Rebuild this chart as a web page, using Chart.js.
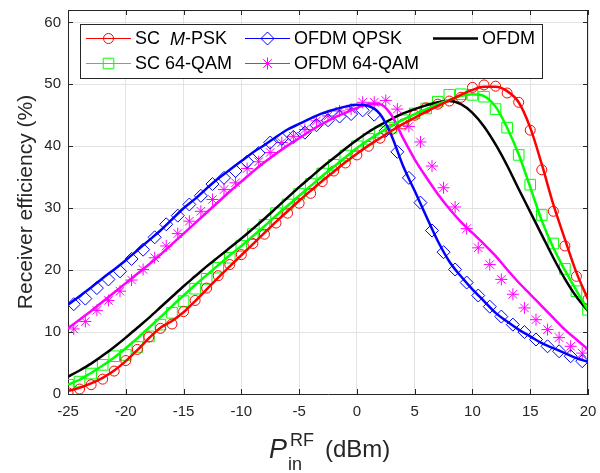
<!DOCTYPE html>
<html>
<head>
<meta charset="utf-8">
<script src="https://cdn.jsdelivr.net/npm/chart.js@4/dist/chart.umd.min.js"></script>
<style>
  html, body { margin: 0; padding: 0; background: #fff; }
</style>
</head>
<body>
<canvas id="effChart" width="600" height="473"></canvas>
<script>
// input power (dBm): simulated curves and SC measurements on whole dBm,
// OFDM measurements on the half dBm
var pinWhole = [-25,-24,-23,-22,-21,-20,-19,-18,-17,-16,-15,-14,-13,-12,-11,-10,-9,-8,-7,-6,-5,-4,-3,-2,-1,
                0,1,2,3,4,5,6,7,8,9,10,11,12,13,14,15,16,17,18,19,20];
var pinHalf = [-24.5,-23.5,-22.5,-21.5,-20.5,-19.5,-18.5,-17.5,-16.5,-15.5,-14.5,-13.5,-12.5,-11.5,-10.5,
               -9.5,-8.5,-7.5,-6.5,-5.5,-4.5,-3.5,-2.5,-1.5,-0.5,0.5,1.5,2.5,3.5,4.5,5.5,6.5,7.5,8.5,9.5,
               10.5,11.5,12.5,13.5,14.5,15.5,16.5,17.5,18.5,19.5];

// receiver efficiency (%)
var scPskCurve = [0.5,1.0,1.7,2.6,3.8,5.3,7.1,9.0,10.7,11.8,13.2,15.0,16.9,18.8,20.6,22.4,24.2,26.0,27.8,29.5,31.2,32.8,34.4,35.9,37.4,
                  38.8,40.1,41.3,42.5,43.6,44.6,45.6,46.5,47.4,48.3,49.1,49.6,49.6,48.9,47.1,43.0,37.1,30.6,25.0,19.6,15.3];
var scPskMeas = [0.2,0.8,1.5,2.4,3.7,5.4,7.2,9.2,10.6,11.3,13.3,15.1,17.1,19.1,20.9,22.5,24.3,25.8,27.6,29.2,30.8,32.4,34.3,36.0,37.3,
                 38.6,40.0,41.3,42.7,43.6,45.0,46.2,46.8,47.3,47.9,49.5,49.9,49.7,48.6,47.1,42.6,36.2,29.5,23.9,19.0,15.3];
var sc64Curve = [1.5,2.3,3.4,4.6,5.9,7.4,9.0,10.7,12.4,14.2,15.9,17.6,19.2,20.8,22.4,23.9,25.5,27.1,28.8,30.4,32.0,33.6,35.2,36.7,38.2,
                 39.7,41.0,42.2,43.3,44.3,45.2,46.0,46.8,47.5,48.1,48.4,48.1,46.4,43.0,38.7,33.4,28.0,23.6,20.0,16.7,13.5];
var sc64Meas = [1.5,2.0,3.3,4.7,6.1,6.3,7.6,9.3,11.2,13.1,15.0,17.0,18.6,20.4,22.0,23.9,25.8,27.3,29.2,30.6,32.3,33.9,35.6,37.0,38.5,
                40.0,41.2,42.3,43.0,44.2,45.3,46.1,47.2,48.3,48.4,48.3,48.0,46.0,43.0,38.6,33.8,28.9,24.3,20.2,16.6,13.6];
var ofdmCurve = [2.8,3.8,4.9,6.2,7.6,9.1,10.7,12.3,14.0,15.7,17.4,19.0,20.6,22.1,23.6,25.1,26.7,28.3,30.0,31.7,33.4,35.0,36.6,38.1,39.6,
                 41.0,42.3,43.4,44.4,45.3,46.0,46.6,47.1,47.3,46.8,45.4,43.2,40.3,36.9,33.1,29.4,25.7,22.0,18.6,15.7,13.4];
var qpskCurve = [14.4,15.8,17.2,18.7,20.1,21.6,23.2,24.8,26.4,28.2,30.0,31.5,33.2,34.8,36.2,37.6,39.0,40.2,41.5,42.7,43.6,44.5,45.3,45.9,46.4,
                 46.7,46.5,45.2,41.7,36.8,32.8,28.7,24.7,21.4,19.0,16.9,15.0,13.1,11.7,10.4,9.3,8.2,7.4,6.6,5.8,5.2];
var qpskMeas = [14.5,15.4,17.1,18.5,19.8,21.8,23.3,25.3,27.4,28.8,30.6,32.0,33.9,34.9,36.0,37.5,38.9,40.6,41.2,41.5,42.2,43.4,44.2,44.8,45.2,
                45.8,45.1,42.5,39.1,34.9,30.9,26.4,22.9,20.1,18.0,15.9,14.1,12.5,11.2,10.0,8.8,7.7,6.9,6.1,5.3];
var ofdm64Curve = [10.6,12.0,13.4,14.9,16.4,17.9,19.4,20.9,22.5,24.2,25.9,27.6,29.3,31.0,32.7,34.3,35.9,37.4,38.8,40.1,41.3,42.5,43.6,44.6,45.4,
                   46.2,46.8,46.8,45.0,41.3,37.9,35.0,32.3,29.9,27.8,26.0,24.2,22.3,20.1,18.0,16.1,14.2,12.3,10.4,8.8,7.2];
var ofdm64Meas = [10.5,11.7,13.5,15.1,16.6,18.4,20.1,22.0,23.9,25.9,27.9,29.5,31.4,33.0,34.1,36.4,37.5,39.0,40.6,41.6,42.7,44.1,44.9,45.7,46.0,
                  47.1,47.1,47.4,46.0,43.2,40.7,36.8,33.3,30.2,26.7,23.6,20.9,18.5,16.1,13.9,12.0,10.4,9.1,7.7,6.6];

var xTicks = [-25, -20, -15, -10, -5, 0, 5, 10, 15, 20];
var yTicks = [0, 10, 20, 30, 40, 50, 60];

var axisColor = '#262626';
var fontFamily = '"Liberation Sans", Arial, sans-serif';

function pts(xs, ys) {
    return xs.map(function (x, i) { return { x: x, y: ys[i] }; });
}

function curve(label, xs, ys, color) {
    return {
        label: label, data: pts(xs, ys),
        borderColor: color, backgroundColor: color,
        borderWidth: 2.5, pointRadius: 0,
        cubicInterpolationMode: 'monotone', order: 1
    };
}

function marks(label, xs, ys, color, style, r) {
    return {
        label: label, data: pts(xs, ys), showLine: false,
        borderColor: color, backgroundColor: 'rgba(0,0,0,0)',
        pointStyle: style, pointRadius: r, pointBorderWidth: 1,
        pointBorderColor: color, pointBackgroundColor: 'rgba(0,0,0,0)', order: 2
    };
}

var datasets = [
    marks('SC M-PSK', pinWhole, scPskMeas, '#ff0000', 'circle', 5),
    marks('OFDM QPSK', pinHalf, qpskMeas, '#0000ff', 'rectRot', 6.5),
    marks('SC 64-QAM', pinWhole, sc64Meas, '#00ff00', 'rect', 7.5),
    marks('OFDM 64-QAM', pinHalf, ofdm64Meas, '#ff00ff', 'star', 6),
    curve('SC M-PSK', pinWhole, scPskCurve, '#ff0000'),
    curve('OFDM QPSK', pinWhole, qpskCurve, '#0000ff'),
    curve('SC 64-QAM', pinWhole, sc64Curve, '#00ff00'),
    curve('OFDM 64-QAM', pinWhole, ofdm64Curve, '#ff00ff'),
    curve('OFDM', pinWhole, ofdmCurve, '#000000')
];

// legend entries: [text pieces, marker dataset index (-1 none), curve dataset index, column, row]
var legendEntries = [
    [[['SC  ', ''], ['M', 'italic '], ['-PSK', '']], 0, 4, 0, 0],
    [[['OFDM QPSK', '']], 1, 5, 1, 0],
    [[['OFDM', '']], -1, 8, 2, 0],
    [[['SC 64-QAM', '']], 2, 6, 0, 1],
    [[['OFDM 64-QAM', '']], 3, 7, 1, 1]
];

function drawMark(ctx, ds, x, y) {
    if (Chart.helpers && Chart.helpers.drawPoint) {
        ctx.strokeStyle = ds.pointBorderColor;
        ctx.fillStyle = 'rgba(0,0,0,0)';
        ctx.lineWidth = ds.pointBorderWidth;
        Chart.helpers.drawPoint(ctx, { pointStyle: ds.pointStyle, radius: ds.pointRadius, borderWidth: 1, rotation: 0 }, x, y);
    }
}

var matlabAxes = {
    id: 'matlabAxes',
    afterDatasetsDraw: function (chart) {
        var ctx = chart.ctx, a = chart.chartArea;
        var xs = chart.scales.x, ys = chart.scales.y;
        ctx.save();
        // box + inward ticks
        ctx.strokeStyle = axisColor;
        ctx.lineWidth = 1;
        ctx.beginPath();
        ctx.moveTo(a.left, a.top + 0.5); ctx.lineTo(a.right, a.top + 0.5);
        ctx.moveTo(a.right - 0.5, a.top); ctx.lineTo(a.right - 0.5, a.bottom);
        xTicks.forEach(function (v) {
            var px = Math.round(xs.getPixelForValue(v)) + 0.5;
            ctx.moveTo(px, a.bottom); ctx.lineTo(px, a.bottom - 5);
            ctx.moveTo(px, a.top); ctx.lineTo(px, a.top + 5);
        });
        yTicks.forEach(function (v) {
            var py = Math.round(ys.getPixelForValue(v)) + 0.5;
            ctx.moveTo(a.left, py); ctx.lineTo(a.left + 5, py);
            ctx.moveTo(a.right, py); ctx.lineTo(a.right - 5, py);
        });
        ctx.stroke();

        // legend
        var bx = 80.5, by = 24.5, bw = 462, bh = 54;
        ctx.fillStyle = '#ffffff';
        ctx.fillRect(bx, by, bw, bh);
        ctx.strokeStyle = axisColor;
        ctx.strokeRect(bx, by, bw, bh);
        var colX = [86, 245, 433], rowY = [38.5, 63.5];
        ctx.textBaseline = 'middle';
        legendEntries.forEach(function (e) {
            var x0 = colX[e[3]], y0 = rowY[e[4]];
            var line = chart.data.datasets[e[2]];
            ctx.strokeStyle = line.borderColor;
            ctx.lineWidth = e[1] < 0 ? 2.5 : 1;
            ctx.beginPath();
            ctx.moveTo(x0, y0); ctx.lineTo(x0 + 45, y0);
            ctx.stroke();
            if (e[1] >= 0) drawMark(ctx, chart.data.datasets[e[1]], x0 + 22.5, y0);
            var tx = x0 + 49;
            ctx.fillStyle = '#000000';
            e[0].forEach(function (p) {
                ctx.font = p[1] + '18px ' + fontFamily;
                ctx.fillText(p[0], tx, y0 + 1);
                tx += ctx.measureText(p[0]).width;
            });
        });
        ctx.restore();
    },
    afterDraw: function (chart) {
        // x axis title: P_in^RF (dBm)
        var ctx = chart.ctx;
        ctx.save();
        ctx.fillStyle = axisColor;
        ctx.textBaseline = 'alphabetic';
        ctx.font = 'italic 27px ' + fontFamily;
        ctx.fillText('P', 269, 458);
        ctx.font = '18px ' + fontFamily;
        ctx.fillText('RF', 290, 446);
        ctx.fillText('in', 288, 470);
        ctx.font = '24px ' + fontFamily;
        ctx.fillText('(dBm)', 325, 457);
        ctx.restore();
    }
};

var tickFont = { family: fontFamily, size: 15 };

new Chart(document.getElementById('effChart'), {
    type: 'line',
    data: { datasets: datasets },
    options: {
        responsive: false,
        animation: false,
        layout: { padding: { top: 10, right: 12, left: 0, bottom: 0 } },
        plugins: { legend: { display: false }, tooltip: { enabled: false } },
        scales: {
            x: {
                type: 'linear', min: -25, max: 20,
                afterFit: function (s) { s.height = 79; s.paddingLeft = 0; s.paddingRight = 0; },
                afterBuildTicks: function (s) { s.ticks = xTicks.map(function (v) { return { value: v }; }); },
                grid: { color: '#e3e3e3', drawTicks: false },
                border: { display: true, color: axisColor, width: 1 },
                ticks: { color: axisColor, font: tickFont, padding: 9, maxRotation: 0 }
            },
            y: {
                type: 'linear', min: 0, max: 62,
                afterFit: function (s) { s.width = 68; s.paddingTop = 0; s.paddingBottom = 0; },
                afterBuildTicks: function (s) { s.ticks = yTicks.map(function (v) { return { value: v }; }); },
                grid: { color: '#e3e3e3', drawTicks: false },
                border: { display: true, color: axisColor, width: 1 },
                ticks: { color: axisColor, font: tickFont, padding: 7 },
                title: {
                    display: true, text: 'Receiver efficiency (%)', color: axisColor,
                    font: { family: fontFamily, size: 21 },
                    padding: { top: 14, bottom: 0 }
                }
            }
        }
    },
    plugins: [matlabAxes]
});
</script>
</body>
</html>
